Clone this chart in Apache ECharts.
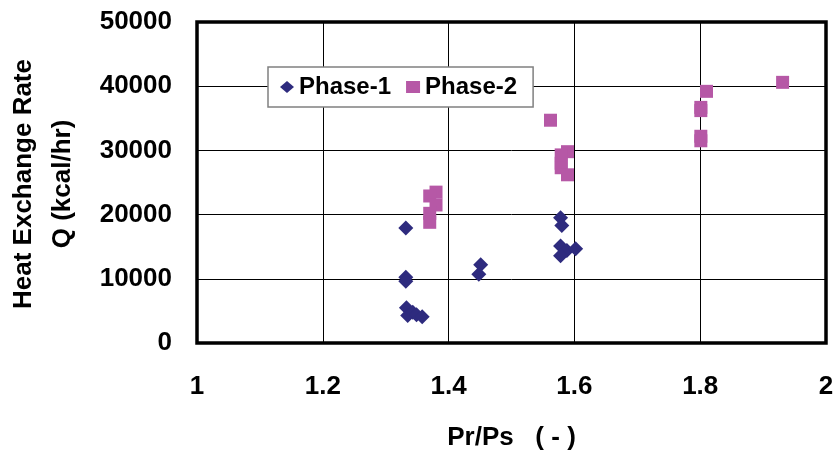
<!DOCTYPE html>
<html><head><meta charset="utf-8">
<script src="https://cdn.jsdelivr.net/npm/echarts@6/dist/echarts.min.js"></script>
<style>html,body{margin:0;padding:0;background:#fff}#c{width:839px;height:452px}</style>
</head><body><div id="c"></div>
<script>
// Data
const phase1X = [1.332, 1.332, 1.332, 1.333, 1.335, 1.343, 1.349, 1.358, 1.451, 1.448, 1.578, 1.580, 1.578, 1.588, 1.578, 1.602];
const phase1Y = [17900, 10250, 9600, 5500, 4300, 4800, 4400, 4100, 12200, 10700, 19500, 18300, 15100, 14400, 13600, 14700];
const phase2X = [1.380, 1.370, 1.380, 1.370, 1.370, 1.562, 1.589, 1.579, 1.579, 1.579, 1.589, 1.810, 1.801, 1.801, 1.801, 1.801, 1.931];
const phase2Y = [23500, 22900, 21500, 20200, 18800, 34700, 29800, 29300, 28000, 27300, 26200, 39200, 36700, 36200, 32200, 31500, 40600];
const xTicks = [1, 1.2, 1.4, 1.6, 1.8, 2];
const yTicks = [0, 10000, 20000, 30000, 40000, 50000];
const seriesNames = ['Phase-1', 'Phase-2'];
const xTitle = 'Pr/Ps   ( - )';
const yTitle = ['Heat Exchange Rate', 'Q (kcal/hr)'];

const FONT = '"Liberation Sans", Arial, sans-serif';
const chart = echarts.init(document.getElementById('c'));
const toPairs = (xs, ys) => xs.map((x, i) => [x, ys[i]]);

chart.setOption({
  animation: false,
  backgroundColor: '#fff',
  grid: { left: 197, right: 13, top: 22, bottom: 109, outerBoundsMode: 'none', containLabel: false,
    show: true, borderColor: '#000', borderWidth: 3.5, backgroundColor: 'transparent' },
  legend: {
    left: 268, top: 67,
    padding: [8, 16, 8, 12],
    itemGap: 15, itemWidth: 14, itemHeight: 12,
    backgroundColor: '#fff', borderColor: '#808080', borderWidth: 1.5,
    textStyle: { fontFamily: FONT, fontWeight: 'bold', fontSize: 24, color: '#000' },
    data: [{ name: seriesNames[0], icon: 'diamond' }, { name: seriesNames[1], icon: 'rect' }]
  },
  xAxis: {
    type: 'value', min: xTicks[0], max: xTicks[xTicks.length - 1], interval: 0.2,
    axisLine: { show: false }, axisTick: { show: false },
    splitLine: { show: true, lineStyle: { color: '#000', width: 1 } },
    axisLabel: { margin: 31, fontFamily: FONT, fontWeight: 'bold', fontSize: 26, color: '#000',
      formatter: v => String(+v.toFixed(1)) },
    name: xTitle, nameLocation: 'middle', nameGap: 82,
    nameTextStyle: { fontFamily: FONT, fontWeight: 'bold', fontSize: 26, color: '#000' }
  },
  yAxis: {
    type: 'value', min: yTicks[0], max: yTicks[yTicks.length - 1], interval: 10000,
    axisLine: { show: false }, axisTick: { show: false },
    splitLine: { show: true, lineStyle: { color: '#000', width: 1 } },
    axisLabel: { margin: 25, fontFamily: FONT, fontWeight: 'bold', fontSize: 26, color: '#000',
      formatter: v => String(v) }
  },
  graphic: [{
    type: 'text', x: 43, y: 184, rotation: Math.PI / 2,
    style: { text: yTitle.join('\n'), fontFamily: FONT, fontWeight: 'bold', fontSize: 26, lineHeight: 39,
      fill: '#000', align: 'center', verticalAlign: 'middle' }
  }],
  series: [
    { name: seriesNames[0], type: 'scatter', symbol: 'diamond', symbolSize: [15, 15],
      itemStyle: { color: '#2E2B7E', opacity: 1 }, data: toPairs(phase1X, phase1Y), z: 3 },
    { name: seriesNames[1], type: 'scatter', symbol: 'rect', symbolSize: 13,
      itemStyle: { color: '#B658A6', opacity: 1 }, data: toPairs(phase2X, phase2Y), z: 2 }
  ]
});
</script>
</body></html>
